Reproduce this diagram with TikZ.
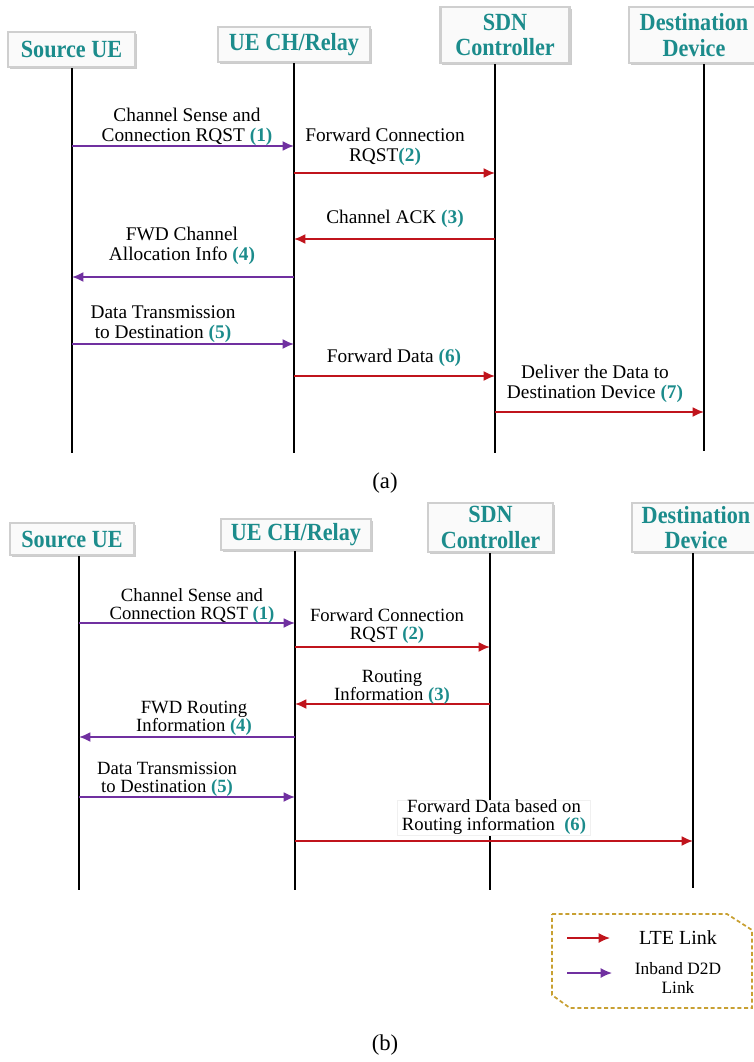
\documentclass[tikz,border=0pt]{standalone}
\usepackage{fontspec}
\setmainfont{Liberation Serif}
\newfontfamily\headfont[FakeStretch=0.9]{Liberation Serif}
\usetikzlibrary{arrows.meta,shadows}
\definecolor{tealhd}{HTML}{1C8C8C}
\definecolor{ltered}{HTML}{C0141C}
\definecolor{dtdpurple}{HTML}{7030A0}
\definecolor{legendgold}{HTML}{C8A032}
\newcommand{\seqno}[1]{\textcolor{tealhd}{\textbf{#1}}}
\tikzset{
    hd/.style={draw=gray!38,line width=1.8pt,fill=gray!4,
        drop shadow={opacity=0.4,shadow xshift=1.6pt,shadow yshift=-1.6pt},
        text=tealhd,align=center,inner sep=1pt,
        font=\headfont\bfseries\fontsize{18.5}{19}\selectfont},
    life/.style={line width=2pt},
    lte/.style={draw=ltered,line width=1.4pt,-{Latex[length=8.5pt,width=7.5pt]}},
    dtd/.style={draw=dtdpurple,line width=1.4pt,-{Latex[length=8.5pt,width=7.5pt]}},
    msga/.style={align=center,inner sep=0pt,font=\fontsize{14.5}{15}\selectfont},
    msgb/.style={align=center,inner sep=0pt,font=\fontsize{14}{13.5}\selectfont},
    legend/.style={draw=legendgold,line width=1.3pt,dash pattern=on 3pt off 2pt}
}
\begin{document}
\begin{tikzpicture}[x=0.75pt,y=-0.75pt]
    \useasboundingbox (0,0) rectangle (753,1062);
    % ---------- (a) ----------
    % header boxes
    \node[hd,minimum width=95pt,minimum height=26pt] (src_a) at (71.5,49.5) {Source UE};
    \node[hd,minimum width=114pt,minimum height=26pt] (relay_a) at (294,44.5) {UE CH/Relay};
    \node[hd,minimum width=97pt,minimum height=42pt] (sdn_a) at (505,35) {SDN\\Controller};
    \node[hd,minimum width=97.5pt,minimum height=42pt] (dst_a) at (694,35) {Destination\\Device};
    % lifeline ends
    \coordinate (src_a_end) at (72,452.5);
    \coordinate (relay_a_end) at (294,452.5);
    \coordinate (sdn_a_end) at (495,452.5);
    \coordinate (dst_a_end) at (704,450.5);
    \foreach \n in {src_a,relay_a,sdn_a,dst_a}
        \draw[life] (\n_end |- \n.south) -- (\n_end);
    % declare points for arrow start/end
    \coordinate (a1_s) at (72,146);   \coordinate (a1_e) at (294,146);
    \coordinate (a2_s) at (294,173);  \coordinate (a2_e) at (495,173);
    \coordinate (a3_s) at (495,239);  \coordinate (a3_e) at (294,239);
    \coordinate (a4_s) at (294,277);  \coordinate (a4_e) at (72,277);
    \coordinate (a5_s) at (72,344);   \coordinate (a5_e) at (294,344);
    \coordinate (a6_s) at (294,376);  \coordinate (a6_e) at (495,376);
    \coordinate (a7_s) at (495,412);  \coordinate (a7_e) at (704,412);
    % draw arrows
    \draw[dtd] (a1_s) -- (a1_e);
    \draw[lte] (a2_s) -- (a2_e);
    \draw[lte] (a3_s) -- (a3_e);
    \draw[dtd] (a4_s) -- (a4_e);
    \draw[dtd] (a5_s) -- (a5_e);
    \draw[lte] (a6_s) -- (a6_e);
    \draw[lte] (a7_s) -- (a7_e);
    % message labels
    \node[msga] (a1_txt) at (187,126.5) {Channel Sense and\\Connection RQST \seqno{(1)}};
    \node[msga] (a2_txt) at (385,147) {Forward Connection\\RQST\seqno{(2)}};
    \node[msga] (a3_txt) at (395,219) {Channel ACK \seqno{(3)}};
    \node[msga] (a4_txt) at (182,245.5) {FWD Channel\\Allocation Info \seqno{(4)}};
    \node[msga] (a5_txt) at (163,324) {Data Transmission\\to Destination \seqno{(5)}};
    \node[msga] (a6_txt) at (394,358) {Forward Data \seqno{(6)}};
    \node[msga] (a7_txt) at (595,384) {Deliver the Data to\\Destination Device \seqno{(7)}};
    \node[font=\fontsize{17}{18}\selectfont] (cap_a) at (385,483) {(a)};
    % ---------- (b) ----------
    % header boxes
    \node[hd,minimum width=93pt,minimum height=24pt] (src_b) at (72,539) {Source UE};
    \node[hd,minimum width=112.5pt,minimum height=23pt] (relay_b) at (296,534.5) {UE CH/Relay};
    \node[hd,minimum width=94pt,minimum height=37pt] (sdn_b) at (490.5,527.5) {SDN\\Controller};
    \node[hd,minimum width=96pt,minimum height=37pt] (dst_b) at (696,527.5) {Destination\\Device};
    % lifeline ends
    \coordinate (src_b_end) at (79,890);
    \coordinate (relay_b_end) at (295,890);
    \coordinate (sdn_b_end) at (490,890);
    \coordinate (dst_b_end) at (693,888);
    \foreach \n in {src_b,relay_b,sdn_b,dst_b}
        \draw[life] (\n_end |- \n.south) -- (\n_end);
    % declare points for arrow start/end
    \coordinate (b1_s) at (79,623);   \coordinate (b1_e) at (295,623);
    \coordinate (b2_s) at (295,647);  \coordinate (b2_e) at (490,647);
    \coordinate (b3_s) at (490,704);  \coordinate (b3_e) at (295,704);
    \coordinate (b4_s) at (295,737);  \coordinate (b4_e) at (79,737);
    \coordinate (b5_s) at (79,797);   \coordinate (b5_e) at (295,797);
    \coordinate (b6_s) at (295,841);  \coordinate (b6_e) at (693,841);
    % draw arrows
    \draw[dtd] (b1_s) -- (b1_e);
    \draw[lte] (b2_s) -- (b2_e);
    \draw[lte] (b3_s) -- (b3_e);
    \draw[dtd] (b4_s) -- (b4_e);
    \draw[dtd] (b5_s) -- (b5_e);
    \draw[lte] (b6_s) -- (b6_e);
    % message labels
    \node[msgb] (b1_txt) at (192,606.5) {Channel Sense and\\Connection RQST \seqno{(1)}};
    \node[msgb] (b2_txt) at (387,626.5) {Forward Connection\\RQST \seqno{(2)}};
    \node[msgb] (b3_txt) at (392,687) {Routing\\Information \seqno{(3)}};
    \node[msgb] (b4_txt) at (194,718) {FWD Routing\\Information \seqno{(4)}};
    \node[msgb] (b5_txt) at (167,779.5) {Data Transmission\\to Destination \seqno{(5)}};
    \node[msgb,fill=white,draw=gray!12,minimum width=145pt,minimum height=26pt] (b6_txt) at (494,817.5)
        {Forward Data based on\\Routing information \ \seqno{(6)}};
    % legend
    \draw[legend] (552,914) -- (727,914) -- (752,930) -- (752,1008) -- (570,1008) -- (552,995) -- cycle;
    \coordinate (lte_s) at (567,938);  \coordinate (lte_e) at (610,938);
    \coordinate (dtd_s) at (567,973);  \coordinate (dtd_e) at (612,973);
    \draw[lte,line width=1.1pt] (lte_s) -- (lte_e);
    \draw[dtd,line width=1.1pt] (dtd_s) -- (dtd_e);
    \node[font=\fontsize{15}{16}\selectfont] (lte_txt) at (678,938) {LTE Link};
    \node[align=center,font=\fontsize{13}{14}\selectfont] (dtd_txt) at (678,978) {Inband D2D\\Link};
    \node[font=\fontsize{17}{18}\selectfont] (cap_b) at (385,1045) {(b)};
\end{tikzpicture}
\end{document}
